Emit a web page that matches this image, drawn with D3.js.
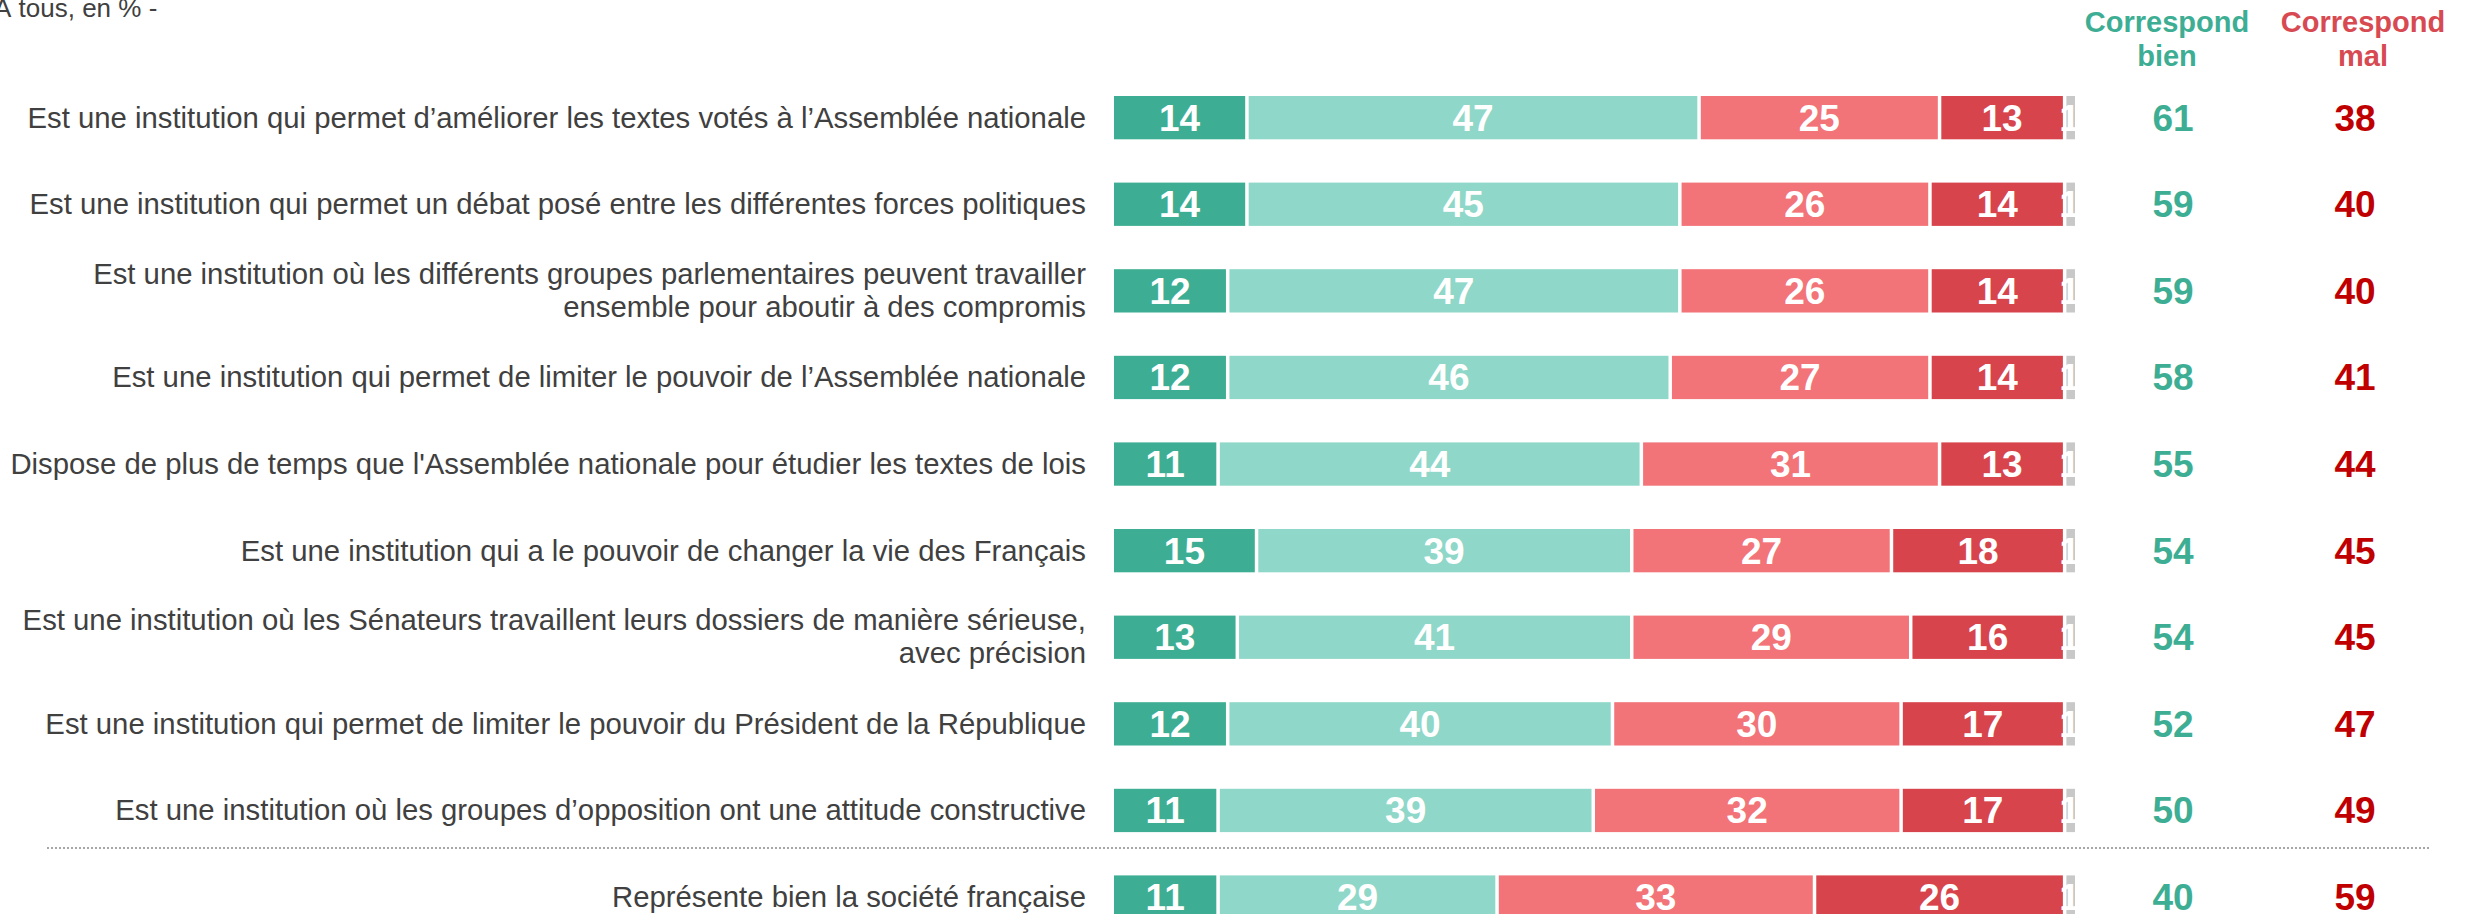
<!DOCTYPE html>
<html>
<head>
<meta charset="utf-8">
<script src="https://cdn.jsdelivr.net/npm/d3@7"></script>
<style>
  body { margin: 0; background: white; }
  svg { display: block; font-family: "Liberation Sans", Arial, sans-serif; }
</style>
</head>
<body>
<div id="bigdiv"></div>
<script>
// items, two lines where the label wraps
var categories = [
    ['Est une institution qui permet d’améliorer les textes votés à l’Assemblée nationale'],
    ['Est une institution qui permet un débat posé entre les différentes forces politiques'],
    ['Est une institution où les différents groupes parlementaires peuvent travailler', 'ensemble pour aboutir à des compromis'],
    ['Est une institution qui permet de limiter le pouvoir de l’Assemblée nationale'],
    ["Dispose de plus de temps que l'Assemblée nationale pour étudier les textes de lois"],
    ['Est une institution qui a le pouvoir de changer la vie des Français'],
    ['Est une institution où les Sénateurs travaillent leurs dossiers de manière sérieuse,', 'avec précision'],
    ['Est une institution qui permet de limiter le pouvoir du Président de la République'],
    ['Est une institution où les groupes d’opposition ont une attitude constructive'],
    ['Représente bien la société française']
]

var tout_a_fait = [14, 14, 12, 12, 11, 15, 13, 12, 11, 11]
var plutot_bien = [47, 45, 47, 46, 44, 39, 41, 40, 39, 29]
var plutot_mal = [25, 26, 26, 27, 31, 27, 29, 30, 32, 33]
var pas_du_tout = [13, 14, 14, 14, 13, 18, 16, 17, 17, 26]
var nsp = [1, 1, 1, 1, 1, 1, 1, 1, 1, 1]

var total_bien = [61, 59, 59, 58, 55, 54, 54, 52, 50, 40]
var total_mal = [38, 40, 40, 41, 44, 45, 45, 47, 49, 59]

var colors = ['#3dae93', '#8fd7c8', '#f27378', '#d7444c', '#c8c8c8']

var W = 2474, H = 914

let svg = d3.select('div#bigdiv').append('svg')
    .attr('width', W).attr('height', H)

let x = d3.scaleLinear().domain([0, 100]).range([1114, 2076])
let y = d3.scaleBand().domain(d3.range(categories.length))
    .range([74.35, 940.35]).paddingInner(0.5).paddingOuter(0.25)

// top-left note
svg.append('text')
    .attr('x', -6).attr('y', 17)
    .attr('font-size', 26).attr('fill', '#404040')
    .text('À tous, en % -')

// column headers
let heads = [
    { x: 2167, color: '#3dae93', lines: ['Correspond', 'bien'] },
    { x: 2363, color: '#d84a52', lines: ['Correspond', 'mal'] }
]
heads.forEach(h => {
    h.lines.forEach((l, li) => {
        svg.append('text')
            .attr('x', h.x).attr('y', 32 + li * 34)
            .attr('text-anchor', 'middle')
            .attr('font-size', 29).attr('font-weight', 'bold')
            .attr('fill', h.color)
            .text(l)
    })
})

// stacked rows
let rows = categories.map((c, i) => {
    let vals = [tout_a_fait[i], plutot_bien[i], plutot_mal[i], pas_du_tout[i], nsp[i]]
    let acc = 0
    let segs = vals.map((v, k) => {
        let s = { start: acc, value: v, k: k }
        acc += v
        return s
    })
    return { i: i, label: c, segs: segs }
})

let rowg = svg.selectAll('g.rowg')
    .data(rows)
    .enter()
    .append('g')
    .attr('class', 'rowg')
    .attr('transform', d => 'translate(0,' + y(d.i) + ')')

let bh = y.bandwidth()

rowg.each(function (d) {
    let g = d3.select(this)
    let n = d.label.length
    d.label.forEach((l, li) => {
        let off = n === 1 ? bh / 2 + 10 : bh / 2 - 7 + li * 33
        g.append('text')
            .attr('x', 1086).attr('y', off)
            .attr('text-anchor', 'end')
            .attr('font-size', 29.3).attr('fill', '#404040')
            .text(l)
    })
})

let segg = rowg.selectAll('g.seg')
    .data(d => d.segs)
    .enter()
    .append('g')
    .attr('class', 'seg')

segg.append('rect')
    .attr('x', d => x(d.start))
    .attr('y', 0)
    .attr('width', d => Math.max(0, x(d.start + d.value) - x(d.start) - (d.k < 4 ? 3.5 : 1)))
    .attr('height', bh)
    .attr('fill', d => colors[d.k])

segg.append('text')
    .attr('x', d => (x(d.start) + x(d.start + d.value) - 3.5) / 2)
    .attr('y', bh / 2 + 13)
    .attr('text-anchor', 'middle')
    .attr('font-size', 37).attr('font-weight', 'bold')
    .attr('fill', 'white')
    .text(d => d.value)

// totals
rowg.append('text')
    .attr('x', 2173).attr('y', bh / 2 + 13)
    .attr('text-anchor', 'middle')
    .attr('font-size', 37).attr('font-weight', 'bold')
    .attr('fill', '#3dae93')
    .text(d => total_bien[d.i])

rowg.append('text')
    .attr('x', 2355).attr('y', bh / 2 + 13)
    .attr('text-anchor', 'middle')
    .attr('font-size', 37).attr('font-weight', 'bold')
    .attr('fill', '#c00000')
    .text(d => total_mal[d.i])

// separator before last item
svg.append('line')
    .attr('x1', 47).attr('x2', 2430)
    .attr('y1', 848).attr('y2', 848)
    .attr('stroke', '#a6a6a6').attr('stroke-width', 2)
    .attr('stroke-dasharray', '2,2')
</script>
</body>
</html>
